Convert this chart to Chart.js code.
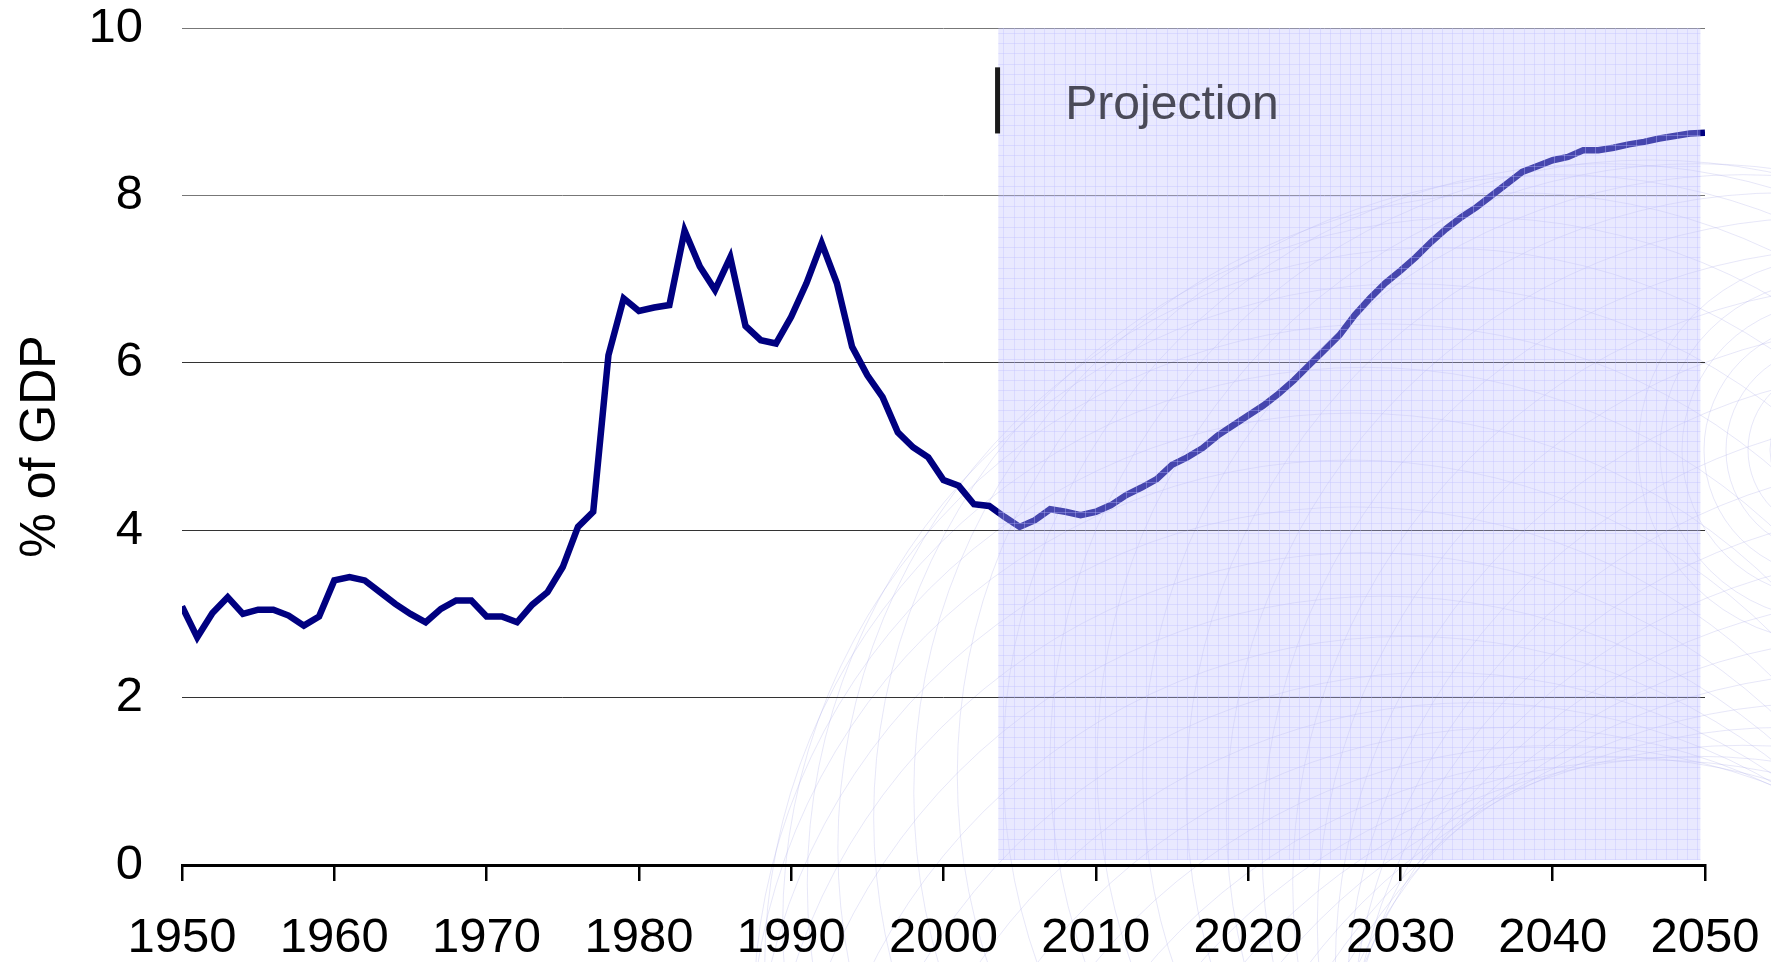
<!DOCTYPE html>
<html>
<head>
<meta charset="utf-8">
<script src="https://cdn.jsdelivr.net/npm/chart.js@4/dist/chart.umd.min.js"></script>
<style>
  html, body { margin: 0; padding: 0; background: #fff; }
  #wrap { width: 1771px; height: 962px; position: relative; }
</style>
</head>
<body>
<div id="wrap"><canvas id="gdp-chart"></canvas></div>
<script>
// % of GDP (one value per year)
const firstYear = 1950;
const historical = [
  3.09, 2.72, 3.01, 3.20, 3.00, 3.05, 3.05, 2.98, 2.86, 2.97, // 1950s
  3.40, 3.44, 3.40, 3.26, 3.12, 3.00, 2.90, 3.06, 3.16, 3.16, // 1960s
  2.97, 2.97, 2.90, 3.11, 3.26, 3.56, 4.04, 4.22, 6.09, 6.77, // 1970s
  6.62, 6.66, 6.69, 7.58, 7.15, 6.87, 7.26, 6.44, 6.27, 6.23, // 1980s
  6.55, 6.95, 7.43, 6.95, 6.19, 5.85, 5.59, 5.17, 4.99, 4.87, // 1990s
  4.60, 4.53, 4.31, 4.29                                      // 2000-2003
];
const projection = [
  4.16, 4.04, 4.12, 4.25, 4.22, 4.18,                         // 2004-2009
  4.22, 4.30, 4.42, 4.51, 4.61, 4.78, 4.87, 4.98, 5.13, 5.25, // 2010s
  5.37, 5.49, 5.63, 5.79, 5.97, 6.15, 6.33, 6.57, 6.77, 6.95, // 2020s
  7.10, 7.26, 7.44, 7.60, 7.74, 7.86, 8.00, 8.14, 8.28, 8.35, // 2030s
  8.42, 8.46, 8.54, 8.54, 8.57, 8.61, 8.64, 8.68, 8.71, 8.74, // 2040s
  8.75                                                        // 2050
];
const yTicks = [0, 2, 4, 6, 8, 10];
const xTicks = [1950, 1960, 1970, 1980, 1990, 2000, 2010, 2020, 2030, 2040, 2050];

const projectionLabel = "Projection";
const yTitle = "% of GDP";

// build points for the library
const series = historical.concat(projection);
const points = series.map((v, i) => ({ x: firstYear + i, y: v }));

const FONT = "'Liberation Sans', Arial, Helvetica, sans-serif";

// faint decorative arcs behind the chart
const backdrop = {
  id: "backdrop",
  beforeDraw(chart) {
    const ctx = chart.ctx;
    ctx.save();
    ctx.strokeStyle = "rgba(170,170,230,0.28)";
    ctx.lineWidth = 1;
    for (let k = 0; k < 40; k++) {
      const t = (k / 40) * Math.PI * 2;
      const cx = 1650 + 300 * Math.cos(t);
      const cy = 1060 + 300 * Math.sin(t);
      ctx.beginPath();
      ctx.arc(cx, cy, 600, 0, Math.PI * 2);
      ctx.stroke();
    }
    // small concentric rings at the right edge
    for (let r = 60; r <= 200; r += 22) {
      ctx.beginPath();
      ctx.arc(1830, 450, r, 0, Math.PI * 2);
      ctx.stroke();
    }
    ctx.restore();
  }
};

// projection shading, marker bar and label
const projectionBox = {
  id: "projectionBox",
  afterDatasetsDraw(chart) {
    const { ctx, scales: { x, y } } = chart;
    const left = x.getPixelForValue(2003.6);
    const right = x.getPixelForValue(2049.7);
    const top = y.getPixelForValue(10);
    const bottom = y.getPixelForValue(0.06);
    ctx.save();
    ctx.fillStyle = "rgba(195,195,255,0.36)";
    ctx.fillRect(left, top, right - left, bottom - top);
    // fine texture grid
    ctx.strokeStyle = "rgba(190,190,255,0.35)";
    ctx.lineWidth = 1;
    ctx.beginPath();
    for (let gx = left + 5; gx < right; gx += 10.2) {
      ctx.moveTo(Math.round(gx) + 0.5, top);
      ctx.lineTo(Math.round(gx) + 0.5, bottom);
    }
    for (let gy = top + 5; gy < bottom; gy += 10.2) {
      ctx.moveTo(left, Math.round(gy) + 0.5);
      ctx.lineTo(right, Math.round(gy) + 0.5);
    }
    ctx.stroke();

    // marker bar
    ctx.fillStyle = "#1a1a1a";
    const barX = x.getPixelForValue(2003.55);
    ctx.fillRect(barX - 2.5, y.getPixelForValue(9.53), 5, y.getPixelForValue(8.74) - y.getPixelForValue(9.53));

    ctx.fillStyle = "#4a4a58";
    ctx.font = "48px " + FONT;
    ctx.textAlign = "left";
    ctx.textBaseline = "alphabetic";
    ctx.fillText(projectionLabel, x.getPixelForValue(2008.0), y.getPixelForValue(8.91));
    ctx.restore();
  }
};

new Chart(document.getElementById("gdp-chart"), {
  type: "line",
  data: {
    datasets: [
      {
        label: yTitle,
        data: points,
        borderColor: "#000080",
        borderWidth: 6.5,
        pointRadius: 0,
        tension: 0,
        fill: false,
      },
    ],
  },
  options: {
    responsive: true,
    maintainAspectRatio: false,
    animation: false,
    layout: { padding: { left: 0, right: 66, top: 28, bottom: 0 } },
    plugins: {
      legend: { display: false },
      tooltip: { enabled: false },
    },
    scales: {
      x: {
        type: "linear",
        min: 1950,
        max: 2050,
        afterBuildTicks: (s) => { s.ticks = xTicks.map((v) => ({ value: v })); },
        afterFit: (s) => {
          s.height = 97;
          s.paddingLeft = 0; s.paddingRight = 0;
        },
        ticks: {
          callback: (v) => String(v),
          color: "#000",
          font: { family: FONT, size: 49 },
          padding: 28,
          maxRotation: 0,
          autoSkip: false,
        },
        grid: {
          drawOnChartArea: false,
          drawTicks: true,
          tickLength: 16,
          color: "#000",
          lineWidth: 2.5,
        },
        border: { display: true, color: "#000", width: 3 },
      },
      y: {
        min: 0,
        max: 10,
        afterBuildTicks: (s) => { s.ticks = yTicks.map((v) => ({ value: v })); },
        afterFit: (s) => {
          s.width = 182;
          s.paddingTop = 0; s.paddingBottom = 0;
        },
        ticks: {
          color: "#000",
          font: { family: FONT, size: 49 },
          padding: 39,
        },
        grid: {
          drawTicks: false,
          color: (c) => {
            if (c.tick && c.tick.value === 0) return "rgba(0,0,0,0)";
            return c.tick && c.tick.value >= 8 ? "#777" : "#333";
          },
          lineWidth: 1,
        },
        border: { display: false },
        title: {
          display: true,
          text: yTitle,
          color: "#000",
          font: { family: FONT, size: 50 },
          padding: { top: 11, bottom: 0 },
        },
      },
    },
  },
  plugins: [backdrop, projectionBox],
});
</script>
</body>
</html>
